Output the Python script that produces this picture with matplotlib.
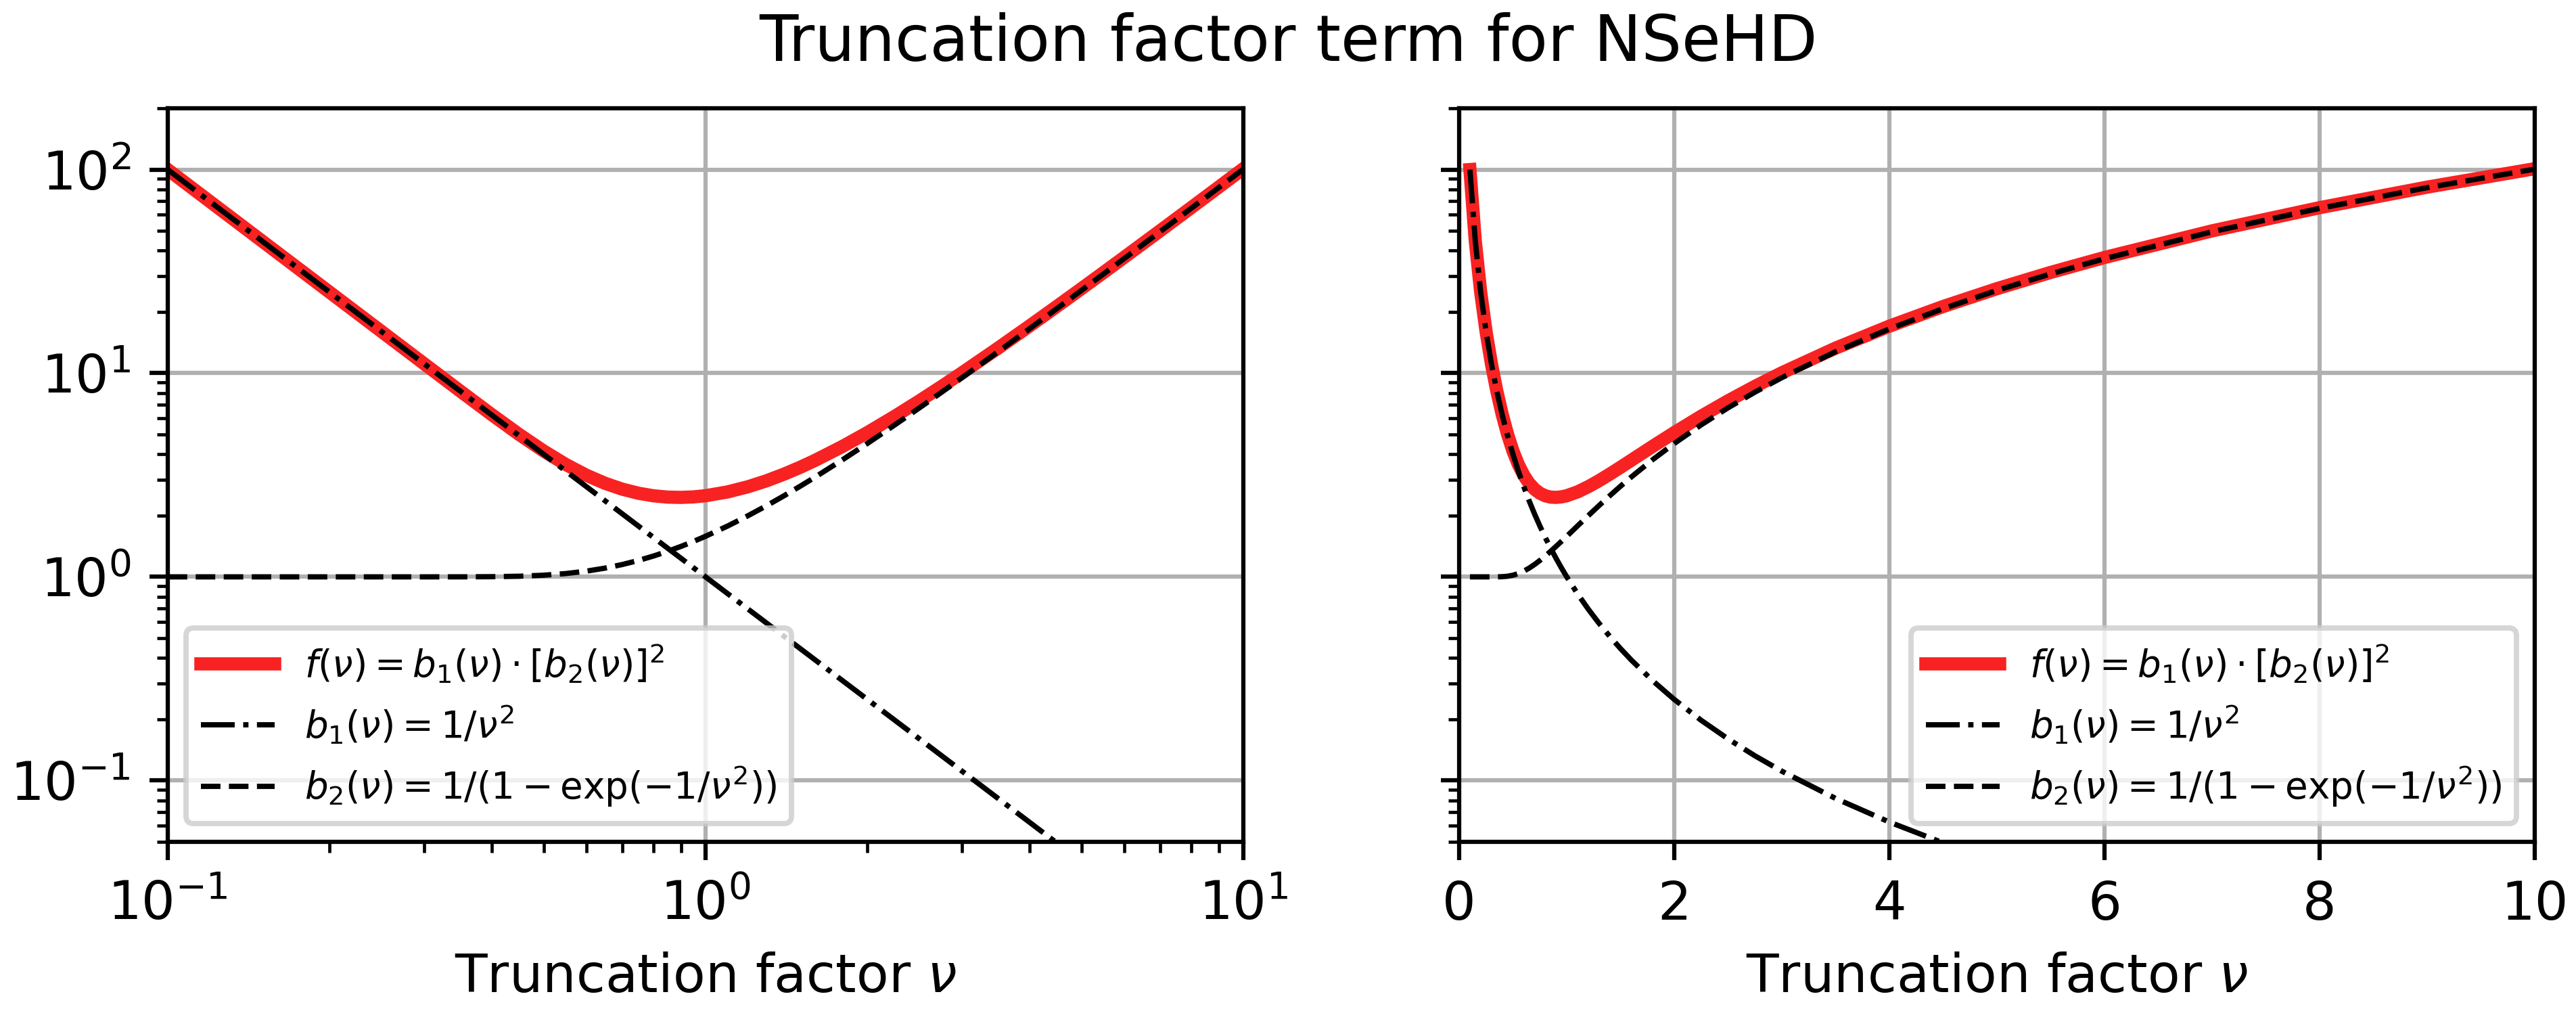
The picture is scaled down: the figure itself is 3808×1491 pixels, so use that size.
import matplotlib
matplotlib.use("Agg")
import matplotlib.pyplot as plt

# truncation factor values and the three curves
nu = [0.1, 0.15, 0.2, 0.25, 0.3, 0.35, 0.4, 0.45, 0.5, 0.55,
      0.6, 0.65, 0.7, 0.75, 0.8, 0.85, 0.9, 0.95, 1.0, 1.1,
      1.2, 1.3, 1.4, 1.5, 1.6, 1.8, 2.0, 2.25, 2.5, 2.75,
      3.0, 3.5, 4.0, 4.5, 5.0, 5.5, 6.0, 7.0, 8.0, 9.0, 10.0]

f_nu = [100.0, 44.44, 25.0, 16.0, 11.111, 8.168, 6.274, 5.010, 4.151, 3.562,
        3.158, 2.882, 2.696, 2.575, 2.501, 2.464, 2.456, 2.470, 2.503, 2.613,
        2.771, 2.966, 3.195, 3.452, 3.736, 4.377, 5.109, 6.148, 7.319, 8.619,
        10.047, 13.284, 17.026, 21.271, 26.017, 31.264, 37.012, 50.009, 65.007, 82.005, 101.004]

b1_nu = [100.0, 44.44, 25.0, 16.0, 11.111, 8.163, 6.25, 4.938, 4.0, 3.306,
         2.778, 2.367, 2.041, 1.778, 1.5625, 1.384, 1.235, 1.108, 1.0, 0.8264,
         0.6944, 0.5917, 0.5102, 0.4444, 0.3906, 0.3086, 0.25, 0.1975, 0.16, 0.1322,
         0.1111, 0.08163, 0.0625, 0.04938, 0.04, 0.03306, 0.02778, 0.02041, 0.01563, 0.01235, 0.01]

b2_nu = [1.0, 1.0, 1.0, 1.0, 1.00001, 1.00029, 1.00193, 1.00722, 1.01866, 1.03807,
         1.0663, 1.10348, 1.14933, 1.20339, 1.2652, 1.33431, 1.41033, 1.49302, 1.58198, 1.77809,
         1.99742, 2.23901, 2.50233, 2.78692, 3.09247, 3.76567, 4.52082, 5.57896, 6.76334, 8.0735,
         9.50923, 12.7567, 16.5052, 20.7541, 25.5033, 30.7528, 36.5023, 49.5017, 64.5013, 81.501, 100.5008]

labels = [r'$f(\nu) = b_1(\nu) \cdot [b_2(\nu)]^2$',
          r'$b_1(\nu) = 1/\nu^2$',
          r'$b_2(\nu) = 1/(1 - \exp(-1/\nu^2))$']

dpi = 562.5
fig, axes = plt.subplots(1, 2, sharey=True, figsize=(3808 / dpi, 1491 / dpi), dpi=dpi)
fig.subplots_adjust(left=0.0651, right=0.984, bottom=0.1657, top=0.8927, wspace=0.2007)

for ax, loc in zip(axes, ["lower left", "lower right"]):
    ax.plot(nu, f_nu, color='#f82222', lw=2.5, label=labels[0])
    ax.plot(nu, b1_nu, 'k-.', lw=1.0, label=labels[1])
    ax.plot(nu, b2_nu, 'k--', lw=1.0, label=labels[2])
    ax.set_yscale('log')
    ax.set_ylim(0.05, 200)
    ax.set_xlim(0.1 if loc == "lower left" else 0, 10)
    ax.grid(True)
    ax.set_xlabel(r'Truncation factor $\nu$')
    ax.legend(loc=loc, fontsize=7)

axes[0].set_xscale('log')
axes[0].set_xlim(0.1, 10)

fig.suptitle('Truncation factor term for NSeHD', fontsize=12, y=1 - 90 / 1491, va='baseline')
fig.savefig('out.png', dpi=dpi)
